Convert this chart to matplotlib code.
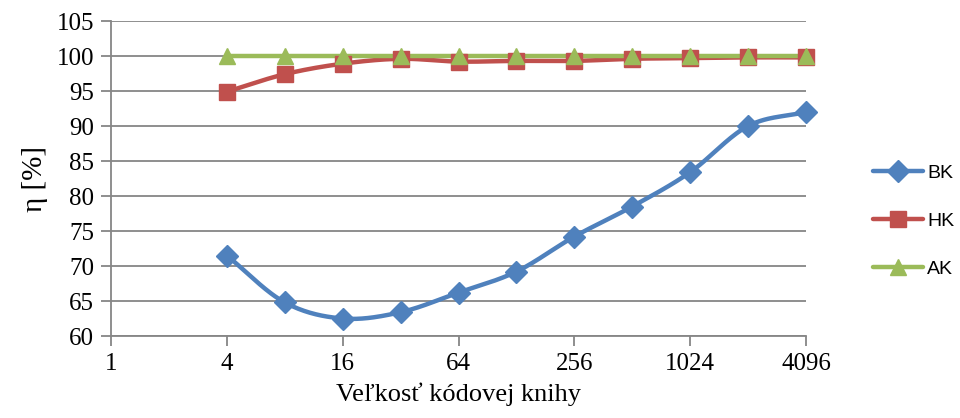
import numpy as np
import matplotlib
matplotlib.use("Agg")
import matplotlib.pyplot as plt
from matplotlib.lines import Line2D

codebook = [4, 8, 16, 32, 64, 128, 256, 512, 1024, 2048, 4096]
bk = [71.5, 64.8, 62.5, 63.4, 66.2, 69.2, 74.2, 78.5, 83.4, 90.0, 92.0]
hk = [94.9, 97.4, 98.9, 99.6, 99.2, 99.3, 99.3, 99.6, 99.7, 99.8, 99.8]
ak = [100.0] * 11
xticks = [1, 4, 16, 64, 256, 1024, 4096]
series = [("BK", bk, "#4F81BD", "D", 11), ("HK", hk, "#C0504D", "s", 11), ("AK", ak, "#9BBB59", "^", 11)]


def catmull(xs, ys, n=30):
    xs = np.asarray(xs, float); ys = np.asarray(ys, float)
    px = np.concatenate([[2 * xs[0] - xs[1]], xs, [2 * xs[-1] - xs[-2]]])
    py = np.concatenate([[2 * ys[0] - ys[1]], ys, [2 * ys[-1] - ys[-2]]])
    ox, oy = [], []
    for i in range(1, len(px) - 2):
        t = np.linspace(0, 1, n, endpoint=False) if i < len(px) - 3 else np.linspace(0, 1, n)
        for arr, out in ((px, ox), (py, oy)):
            p0, p1, p2, p3 = arr[i - 1], arr[i], arr[i + 1], arr[i + 2]
            out.extend(0.5 * ((2 * p1) + (-p0 + p2) * t + (2 * p0 - 5 * p1 + 4 * p2 - p3) * t ** 2
                              + (-p0 + 3 * p1 - 3 * p2 + p3) * t ** 3))
    return np.array(ox), np.array(oy)


fig = plt.figure(figsize=(9.6, 4.18), dpi=100)
ax = fig.add_axes([111 / 960, 1 - 336 / 418, (806 - 111) / 960, (336 - 21) / 418])

lx = np.log2(codebook)
for name, ys, col, mk, ms in series:
    sx, sy = catmull(lx, ys)
    ax.plot(sx, sy, color=col, lw=3.2, solid_capstyle="round", zorder=3, clip_on=False)
    ax.plot(lx, ys, linestyle="none", marker=mk, color=col, ms=ms, zorder=4, clip_on=False)

ax.set_xlim(0, 12)
ax.set_ylim(60, 105)
ax.set_xticks(np.log2(xticks))
ax.set_xticklabels([str(v) for v in xticks])
ax.set_yticks(np.arange(60, 106, 5))
ax.grid(axis="y", color="#868686", lw=1.3)
ax.set_axisbelow(True)
for s in ["top", "right"]:
    ax.spines[s].set_visible(False)
for s in ["left", "bottom"]:
    ax.spines[s].set_color("#868686")
    ax.spines[s].set_linewidth(1.3)
ax.tick_params(axis="both", color="#868686", width=1.3, length=7, direction="out",
               labelsize=18, pad=5)
for lab in ax.get_xticklabels() + ax.get_yticklabels():
    lab.set_fontfamily("Liberation Serif")
ax.set_xlabel("Veľkosť kódovej knihy", fontsize=19, family="Liberation Serif", labelpad=6)
ax.set_ylabel("η [%]", fontsize=21, family="Liberation Serif", labelpad=6)

handles = [Line2D([0], [0], color=c, lw=3.2, marker=m, ms=ms, solid_capstyle="round")
           for _, _, c, m, ms in series]
leg = fig.legend(handles, [s[0] for s in series], loc="center left",
                 bbox_to_anchor=(855 / 960, 1 - 221 / 418), frameon=False,
                 prop={"family": "Liberation Sans", "size": 14}, handlelength=2.6,
                 labelspacing=1.55, handletextpad=0.2)
fig.savefig("out.png", dpi=100)
